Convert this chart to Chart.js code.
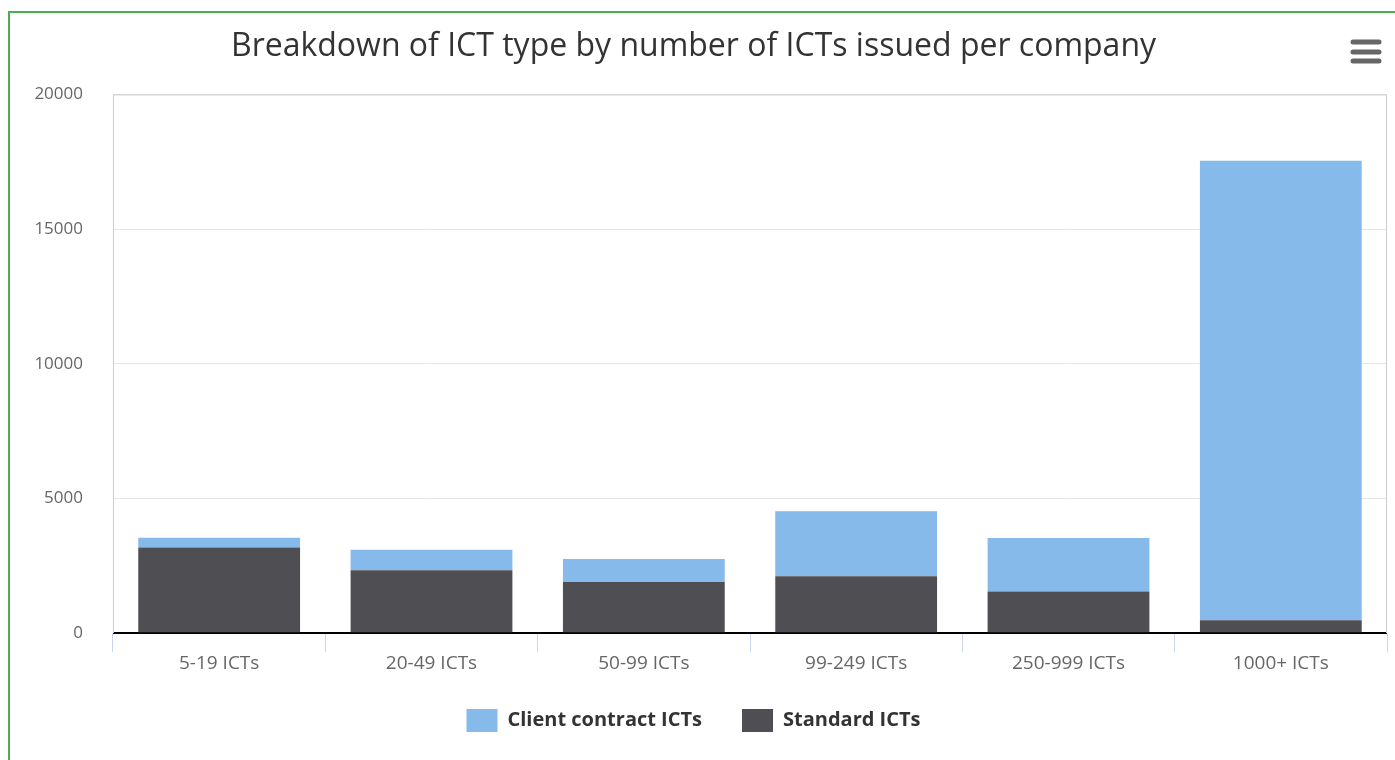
<!DOCTYPE html>
<html>
<head>
<meta charset="utf-8">
<script src="https://cdn.jsdelivr.net/npm/chart.js@4"></script>
<style>
  html, body { margin: 0; padding: 0; background: #fff; overflow: hidden; }
  #wrap { position: relative; width: 1395px; height: 760px; }
  #frame { position: absolute; left: 8px; top: 11px; width: 1400px; height: 760px; border: 2px solid #4cae4f; box-sizing: border-box; pointer-events: none; }
</style>
</head>
<body>
<div id="wrap">
  <canvas id="ictChart" width="1395" height="760"></canvas>
  <div id="frame"></div>
</div>
<script>
// data
var categories = ["5-19 ICTs", "20-49 ICTs", "50-99 ICTs", "99-249 ICTs", "250-999 ICTs", "1000+ ICTs"];
var standardICTs = [3180, 2340, 1900, 2110, 1550, 480];
var clientContractICTs = [360, 760, 850, 2420, 1980, 17060];
var yTicks = [0, 5000, 10000, 15000, 20000];

var FONT = "'Open Sans', 'DejaVu Sans', sans-serif";

// frame lines around the plot + the menu icon
var extras = {
  id: "extras",
  beforeDatasetsDraw: function (chart) {
    var a = chart.chartArea, ctx = chart.ctx;
    ctx.save();
    ctx.strokeStyle = "#cccccc";
    ctx.lineWidth = 1;
    ctx.beginPath();
    ctx.moveTo(a.left + 0.5, a.bottom);
    ctx.lineTo(a.left + 0.5, a.top + 0.5);
    ctx.lineTo(a.right - 0.5, a.top + 0.5);
    ctx.lineTo(a.right - 0.5, a.bottom);
    ctx.stroke();
    ctx.restore();
  },
  afterDraw: function (chart) {
    var ctx = chart.ctx;
    ctx.save();
    ctx.strokeStyle = "#666666";
    ctx.lineWidth = 5;
    ctx.lineCap = "round";
    [42, 52, 61].forEach(function (y) {
      ctx.beginPath();
      ctx.moveTo(1353, y);
      ctx.lineTo(1379, y);
      ctx.stroke();
    });
    ctx.restore();
  }
};

var ctx = document.getElementById("ictChart").getContext("2d");

new Chart(ctx, {
  type: "bar",
  data: {
    labels: categories,
    datasets: [
      {
        label: "Standard ICTs",
        data: standardICTs,
        backgroundColor: "#4f4e53",
        borderWidth: 0,
        categoryPercentage: 1,
        barPercentage: 0.762
      },
      {
        label: "Client contract ICTs",
        data: clientContractICTs,
        backgroundColor: "#85baeb",
        borderWidth: 0,
        categoryPercentage: 1,
        barPercentage: 0.762
      }
    ]
  },
  options: {
    responsive: false,
    animation: false,
    layout: { padding: { top: 12, right: 8, left: 0, bottom: 18 } },
    scales: {
      x: {
        stacked: true,
        border: { display: false },
        afterFit: function (scale) { scale.height -= 6; },
        grid: {
          drawOnChartArea: false,
          drawTicks: true,
          tickLength: 19,
          color: "#ccd6eb",
          offset: true
        },
        ticks: { color: "#666666", font: { family: FONT, size: 19 }, padding: 0 }
      },
      y: {
        stacked: true,
        min: 0,
        max: 20000,
        afterBuildTicks: function (scale) {
          scale.ticks = yTicks.map(function (v) { return { value: v }; });
        },
        afterFit: function (scale) { scale.width = 113; },
        border: { display: false },
        grid: {
          drawTicks: false,
          color: function (c) { return c.tick && c.tick.value === 0 ? "#000000" : "#e6e6e6"; },
          lineWidth: function (c) { return c.tick && c.tick.value === 0 ? 2 : 1; }
        },
        ticks: {
          color: "#666666",
          font: { family: FONT, size: 17 },
          padding: 30,
          callback: function (v) { return String(v); }
        }
      }
    },
    plugins: {
      title: {
        display: true,
        text: "Breakdown of ICT type by number of ICTs issued per company",
        color: "#333333",
        font: { family: FONT, size: 32, weight: "normal" },
        padding: { top: 16, bottom: 28 }
      },
      legend: {
        position: "bottom",
        reverse: true,
        labels: {
          color: "#333333",
          font: { family: FONT, size: 20, weight: "bold" },
          boxWidth: 31,
          boxHeight: 23,
          padding: 40
        }
      },
      tooltip: { enabled: false }
    }
  },
  plugins: [extras]
});
</script>
</body>
</html>
